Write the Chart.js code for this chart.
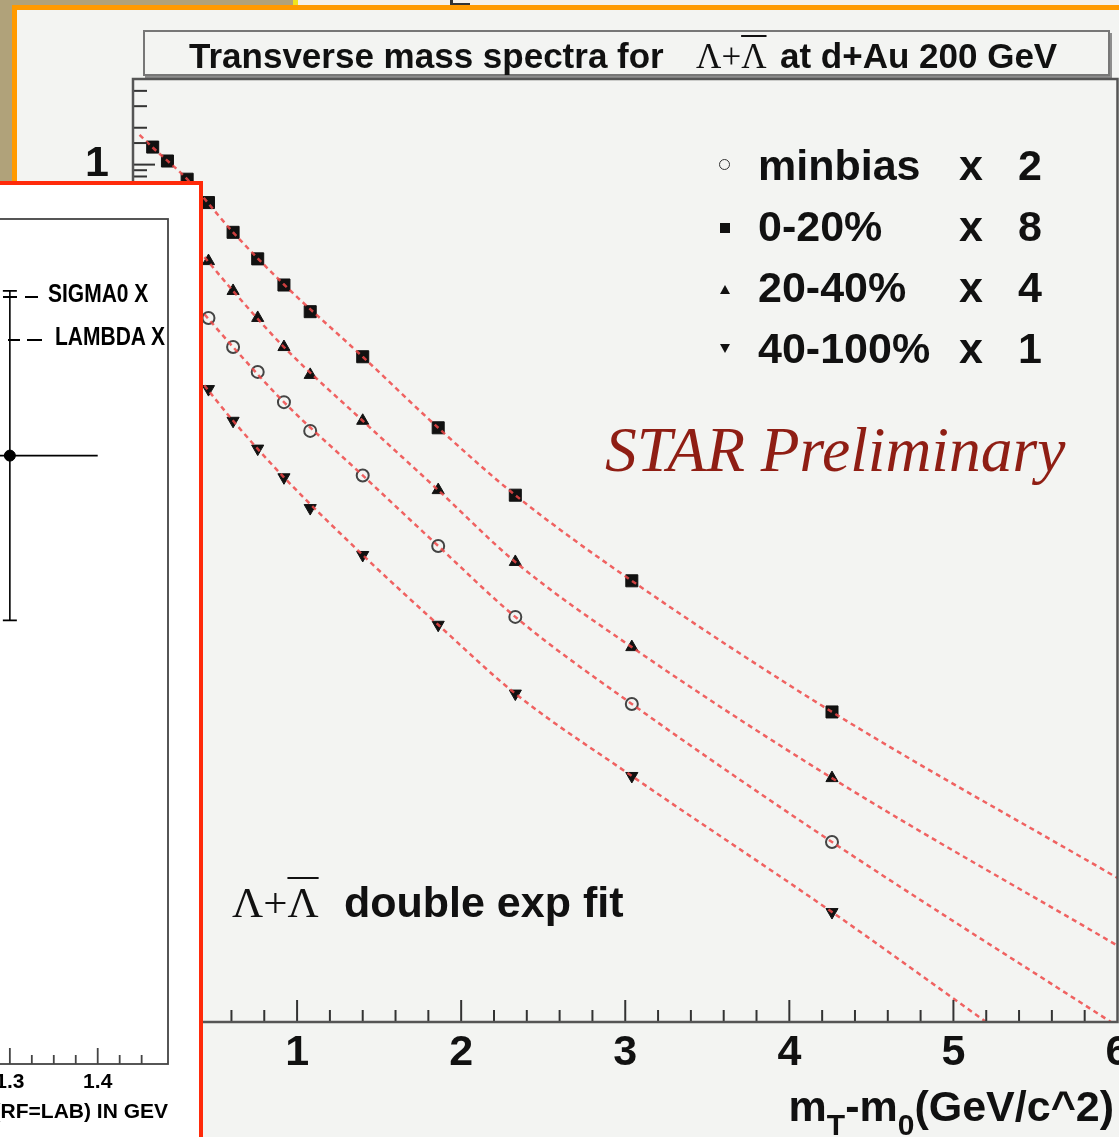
<!DOCTYPE html>
<html>
<head>
<meta charset="utf-8"/>
<title>Transverse mass spectra for Lambda+antiLambda at d+Au 200 GeV</title>
<script src="https://cdn.jsdelivr.net/npm/chart.js@4.4.1/dist/chart.umd.min.js"></script>
<style>
    html, body { margin:0; padding:0; }
    body { width:1119px; height:1137px; overflow:hidden; position:relative; background:#b0a27a;
           font-family:"Liberation Sans", Arial, sans-serif; color:#111; }
    .abs { position:absolute; white-space:nowrap; }
    .sans { font-family:"Liberation Sans", Arial, sans-serif; font-weight:bold; }
    .serif { font-family:"Liberation Serif", "Times New Roman", serif; }
    .ovl { text-decoration:overline; text-decoration-thickness:2px; }
    #slideTop { left:298px; top:0; width:821px; height:6px; background:#f5f1ea; }
    #slideEdge { left:293px; top:0; width:5px; height:6px; background:#f2e41c; }
    #panel { left:12px; top:5px; width:1120px; height:1150px; background:#f3f4f2;
             border-top:5px solid #ff9a00; border-left:5px solid #ff9a00; }
    #titleBox { left:143px; top:30px; width:963px; height:42px; border:2px solid #777; background:#f3f4f2;
                box-shadow:2px 3px 0 #8d8d8d; }
    #mainChart { left:0; top:0; z-index:2; }
    .txt { z-index:3; }
    .mk { position:absolute; z-index:3; }
    #inset { left:-20px; top:181px; width:223px; height:1000px; box-sizing:border-box; border:4px solid #ff2a0a;
             background:#fff; overflow:hidden; z-index:5; }
    #insetChart { position:absolute; left:-134px; top:0; }
    .itxt { z-index:6; font-family:"Liberation Sans", Arial, sans-serif; font-weight:bold; font-size:21px;
            line-height:21px; color:#000; display:inline-block; transform:scaleY(1.2); transform-origin:0 100%; }
    .dash { position:absolute; z-index:6; height:2px; background:#000; }
</style>
</head>
<body>

<div id="slideTop" class="abs"></div>
<div id="slideEdge" class="abs"></div>
<div class="abs" style="left:450px; top:0; width:2.5px; height:5px; background:#333;"></div>
<div class="abs" style="left:450px; top:3px; width:20px; height:2px; background:#333;"></div>
<div id="panel" class="abs"></div>
<div id="titleBox" class="abs"></div>

<div class="abs txt sans" style="left:189px; top:38px; font-size:35px; line-height:35px;">Transverse mass spectra for</div>
<div class="abs txt serif" style="left:696px; top:39px; font-size:35px; line-height:35px;">Λ+<span class="ovl">Λ</span></div>
<div class="abs txt sans" style="left:780px; top:38px; font-size:35px; line-height:35px;">at d+Au 200 GeV</div>

<canvas id="mainChart" class="abs" width="1127" height="1137"></canvas>

<!-- legend -->
<div class="mk" style="left:719px; top:159px; width:9px; height:9px; border:1.8px solid #333; border-radius:50%;"></div>
<div class="mk" style="left:720px; top:223px; width:10px; height:10px; background:#111;"></div>
<div class="mk" style="left:720px; top:285px; width:0; height:0; border-left:5px solid transparent; border-right:5px solid transparent; border-bottom:9px solid #111;"></div>
<div class="mk" style="left:720px; top:344px; width:0; height:0; border-left:5px solid transparent; border-right:5px solid transparent; border-top:9px solid #111;"></div>

<div class="abs txt sans" style="left:758px; top:143.6px; font-size:43px; line-height:43px;">minbias</div>
<div class="abs txt sans" style="left:758px; top:204.6px; font-size:43px; line-height:43px;">0-20%</div>
<div class="abs txt sans" style="left:758px; top:265.6px; font-size:43px; line-height:43px;">20-40%</div>
<div class="abs txt sans" style="left:758px; top:326.6px; font-size:43px; line-height:43px;">40-100%</div>
<div class="abs txt sans" style="left:959px; top:143.6px; font-size:43px; line-height:43px;">x</div>
<div class="abs txt sans" style="left:959px; top:204.6px; font-size:43px; line-height:43px;">x</div>
<div class="abs txt sans" style="left:959px; top:265.6px; font-size:43px; line-height:43px;">x</div>
<div class="abs txt sans" style="left:959px; top:326.6px; font-size:43px; line-height:43px;">x</div>
<div class="abs txt sans" style="left:1018px; top:143.6px; font-size:43px; line-height:43px;">2</div>
<div class="abs txt sans" style="left:1018px; top:204.6px; font-size:43px; line-height:43px;">8</div>
<div class="abs txt sans" style="left:1018px; top:265.6px; font-size:43px; line-height:43px;">4</div>
<div class="abs txt sans" style="left:1018px; top:326.6px; font-size:43px; line-height:43px;">1</div>

<div class="abs txt serif" style="left:605px; top:418px; font-size:63.5px; line-height:63.5px; font-style:italic; color:#8f1e14;">STAR Preliminary</div>

<div class="abs txt serif" style="left:232px; top:881px; font-size:43px; line-height:43px;">Λ+<span class="ovl">Λ</span></div>
<div class="abs txt sans" style="left:344px; top:880.6px; font-size:43px; line-height:43px;">double exp fit</div>

<div class="abs txt sans" style="right:5px; top:1084.6px; font-size:43px; line-height:43px;">m<span style="font-size:30px; vertical-align:-0.45em;">T</span>-m<span style="font-size:30px; vertical-align:-0.45em;">0</span>(GeV/c^2)</div>

<!-- inset: old SIGMA0 / LAMBDA plot -->
<div id="inset" class="abs">
    <canvas id="insetChart" width="340" height="952"></canvas>
</div>
<div class="dash" style="left:3px; top:296px; width:14px;"></div>
<div class="dash" style="left:25px; top:296px; width:13px;"></div>
<div class="dash" style="left:8px; top:339px; width:12px;"></div>
<div class="dash" style="left:27px; top:339px; width:15px;"></div>
<div class="abs" style="left:48px; top:285px; z-index:6;"><span class="itxt">SIGMA0 X</span></div>
<div class="abs" style="left:55px; top:328px; z-index:6;"><span class="itxt">LAMBDA X</span></div>

<script>
    // ---- data ----
    // m_T - m_0 bin centres (GeV/c^2)
    var mtAll = [0.12, 0.21, 0.33, 0.46, 0.61, 0.76, 0.92, 1.08, 1.40, 1.86, 2.33, 3.04, 4.26];
    var mtVis = [0.46, 0.61, 0.76, 0.92, 1.08, 1.40, 1.86, 2.33, 3.04, 4.26];

    // 0-20% x 8 (squares)
    var central = [1.39, 1.07, 0.76, 0.49, 0.28, 0.17, 0.104, 0.063, 0.027, 0.0071, 0.0020, 0.00040, 3.4e-5];
    // 20-40% x 4 (triangles)
    var semiCentral = [0.163, 0.093, 0.056, 0.0324, 0.0192, 0.0081, 0.0022, 0.00057, 0.000115, 9.8e-6];
    // minbias x 2 (open circles)
    var minbias = [0.056, 0.0324, 0.0203, 0.0115, 0.0067, 0.0029, 0.00077, 0.000203, 3.95e-5, 2.95e-6];
    // 40-100% x 1 (down triangles)
    var peripheral = [0.0147, 0.0081, 0.0048, 0.0028, 0.00157, 0.00065, 0.000175, 4.8e-5, 1.02e-5, 7.9e-7];

    // double exponential fit curves
    var fitCentralX = [0.04, 0.12, 0.33, 0.61, 0.92, 1.40, 1.86, 2.33, 3.04, 4.26, 6.0];
    var fitCentralY = [1.75, 1.38, 0.76, 0.28, 0.105, 0.027, 0.0071, 0.0020, 0.00040, 3.4e-5, 1.5e-6];
    var fitSemiX = [0.40, 0.61, 0.92, 1.40, 1.86, 2.33, 3.04, 4.26, 6.0];
    var fitSemiY = [0.20, 0.093, 0.0324, 0.0081, 0.0022, 0.00057, 0.000115, 9.8e-6, 4.2e-7];
    var fitMinbiasX = [0.40, 0.61, 0.92, 1.40, 1.86, 2.33, 3.04, 4.26, 5.96];
    var fitMinbiasY = [0.068, 0.0324, 0.0115, 0.0029, 0.00077, 0.000203, 3.95e-5, 2.95e-6, 1.0e-7];
    var fitPeriphX = [0.40, 0.61, 0.92, 1.40, 1.86, 2.33, 3.04, 4.26, 5.2];
    var fitPeriphY = [0.018, 0.0081, 0.0028, 0.00065, 0.000175, 4.8e-5, 1.02e-5, 7.9e-7, 1.0e-7];

    // inset point (mass in GeV) with errors
    var insetMass = [1.30];
    var insetVal = [0.72];
    var insetMassErr = [0.10];
    var insetValErr = [0.195];

    function pts(xs, ys) {
        return xs.map(function (x, i) { return {x: x, y: ys[i]}; });
    }

    var fitColor = 'rgba(238,72,72,0.85)';
    function fitSet(xs, ys) {
        return {data: pts(xs, ys), showLine: true, pointRadius: 0, borderColor: fitColor, borderWidth: 2.5,
                borderDash: [5, 4], cubicInterpolationMode: 'monotone', order: 1};
    }

    var rootAxes = {
        id: 'rootAxes',
        afterDatasetsDraw: function (chart) {
            var c = chart.ctx, a = chart.chartArea, xs = chart.scales.x, ys = chart.scales.y;
            c.save();
            c.strokeStyle = '#333';
            c.lineWidth = 2;
            xs.ticks.forEach(function (t) {
                var p = xs.getPixelForValue(t.value);
                if (p <= a.left + 1 || p >= a.right - 1) return;
                var major = Math.abs(t.value - Math.round(t.value)) < 1e-6;
                c.beginPath(); c.moveTo(p, a.bottom); c.lineTo(p, a.bottom - (major ? 22 : 12)); c.stroke();
            });
            ys.ticks.forEach(function (t) {
                var p = ys.getPixelForValue(t.value);
                if (p <= a.top + 1 || p >= a.bottom - 1) return;
                var l = Math.log10(t.value);
                var major = Math.abs(l - Math.round(l)) < 1e-6;
                c.beginPath(); c.moveTo(a.left, p); c.lineTo(a.left + (major ? 22 : 14), p); c.stroke();
            });
            c.strokeStyle = '#555';
            c.lineWidth = 2.5;
            c.strokeRect(a.left, a.top, a.right - a.left, a.bottom - a.top);
            c.restore();
        }
    };

    new Chart(document.getElementById('mainChart'), {
        type: 'scatter',
        data: {
            datasets: [
                fitSet(fitCentralX, fitCentralY),
                fitSet(fitSemiX, fitSemiY),
                fitSet(fitMinbiasX, fitMinbiasY),
                fitSet(fitPeriphX, fitPeriphY),
                {label: '0-20%', data: pts(mtAll, central), pointStyle: 'rect', pointRadius: 8.5,
                    pointBackgroundColor: '#111', pointBorderColor: '#111', pointBorderWidth: 1, order: 2},
                {label: '20-40%', data: pts(mtVis, semiCentral), pointStyle: 'triangle', pointRadius: 7,
                    pointBackgroundColor: '#111', pointBorderColor: '#111', pointBorderWidth: 1, order: 2},
                {label: 'minbias', data: pts(mtVis, minbias), pointStyle: 'circle', pointRadius: 6,
                    pointBackgroundColor: 'rgba(0,0,0,0)', pointBorderColor: '#444', pointBorderWidth: 2, order: 2},
                {label: '40-100%', data: pts(mtVis, peripheral), pointStyle: 'triangle', pointRotation: 180, pointRadius: 7,
                    pointBackgroundColor: '#111', pointBorderColor: '#111', pointBorderWidth: 1, order: 2}
            ]
        },
        options: {
            responsive: false,
            animation: false,
            layout: {padding: {top: 79, right: 2, left: 0, bottom: 0}},
            plugins: {legend: {display: false}, tooltip: {enabled: false}},
            scales: {
                x: {
                    type: 'linear', min: 0, max: 6,
                    grid: {display: false, drawTicks: false}, border: {display: false},
                    ticks: {
                        stepSize: 0.2, autoSkip: false, maxRotation: 0, minRotation: 0, padding: 5, color: '#111',
                        font: {size: 43, weight: 'bold'},
                        callback: function (v) {
                            var r = Math.round(v);
                            return (Math.abs(v - r) < 1e-6 && r > 0) ? String(r) : '';
                        }
                    },
                    afterFit: function (s) { s.height = 115; s.paddingLeft = 0; s.paddingRight = 0; }
                },
                y: {
                    type: 'logarithmic', min: 1e-7, max: 5,
                    grid: {display: false, drawTicks: false}, border: {display: false},
                    ticks: {
                        autoSkip: false, padding: 24, color: '#111', font: {size: 43, weight: 'bold'},
                        callback: function (v) {
                            var l = Math.log10(v), r = Math.round(l);
                            if (Math.abs(l - r) > 1e-6) return '';
                            return r === 0 ? '1' : '10' + String(r).replace('-', '\u207b').replace(/\d/g, function (d) {
                                return '\u2070\u00b9\u00b2\u00b3\u2074\u2075\u2076\u2077\u2078\u2079'[+d];
                            });
                        }
                    },
                    afterFit: function (s) { s.width = 133; s.paddingTop = 0; s.paddingBottom = 0; }
                }
            }
        },
        plugins: [rootAxes]
    });

    var insetAxes = {
        id: 'insetAxes',
        afterDatasetsDraw: function (chart) {
            var c = chart.ctx, a = chart.chartArea, xs = chart.scales.x, ys = chart.scales.y;
            c.save();
            c.strokeStyle = '#000';
            c.lineWidth = 1.6;
            // error bars
            insetMass.forEach(function (m, i) {
                var px = xs.getPixelForValue(m), py = ys.getPixelForValue(insetVal[i]);
                var x0 = xs.getPixelForValue(m - insetMassErr[i]), x1 = xs.getPixelForValue(m + insetMassErr[i]);
                var y0 = ys.getPixelForValue(insetVal[i] + insetValErr[i]), y1 = ys.getPixelForValue(insetVal[i] - insetValErr[i]);
                c.beginPath();
                c.moveTo(x0, py); c.lineTo(x1, py);
                c.moveTo(px, y0); c.lineTo(px, y1);
                c.moveTo(px - 7, y0); c.lineTo(px + 7, y0);
                c.moveTo(px - 7, y1); c.lineTo(px + 7, y1);
                c.stroke();
            });
            c.strokeStyle = '#444';
            c.lineWidth = 1.8;
            xs.ticks.forEach(function (t) {
                var p = xs.getPixelForValue(t.value);
                if (p >= a.right - 1) return;
                var major = Math.abs(t.value * 10 - Math.round(t.value * 10)) < 1e-6;
                c.beginPath(); c.moveTo(p, a.bottom); c.lineTo(p, a.bottom - (major ? 16 : 9)); c.stroke();
            });
            c.strokeRect(a.left, a.top, a.right - a.left, a.bottom - a.top);
            c.restore();
        }
    };

    new Chart(document.getElementById('insetChart'), {
        type: 'scatter',
        data: {
            datasets: [{label: 'SIGMA0', data: pts(insetMass, insetVal), pointRadius: 5.5,
                pointBackgroundColor: '#000', pointBorderColor: '#000'}]
        },
        options: {
            responsive: false,
            animation: false,
            layout: {padding: {left: 72, right: 22, top: 34, bottom: 0}},
            plugins: {legend: {display: false}, tooltip: {enabled: false}},
            scales: {
                x: {
                    type: 'linear', min: 1.2, max: 1.48,
                    grid: {display: false, drawTicks: false}, border: {display: false},
                    ticks: {
                        stepSize: 0.025, autoSkip: false, maxRotation: 0, minRotation: 0, padding: 6, color: '#000',
                        font: {size: 21, weight: 'bold'},
                        callback: function (v) {
                            return Math.abs(v * 10 - Math.round(v * 10)) < 1e-6 ? v.toFixed(1) : '';
                        }
                    },
                    title: {display: true, text: '(RF=LAB) IN GEV', align: 'end', color: '#000',
                        font: {size: 21, weight: 'bold'}, padding: {top: 0, bottom: 12}},
                    afterFit: function (s) { s.height = 73; s.paddingLeft = 0; s.paddingRight = 0; }
                },
                y: {display: false, min: 0, max: 1}
            }
        },
        plugins: [insetAxes]
    });
</script>
</body>
</html>
